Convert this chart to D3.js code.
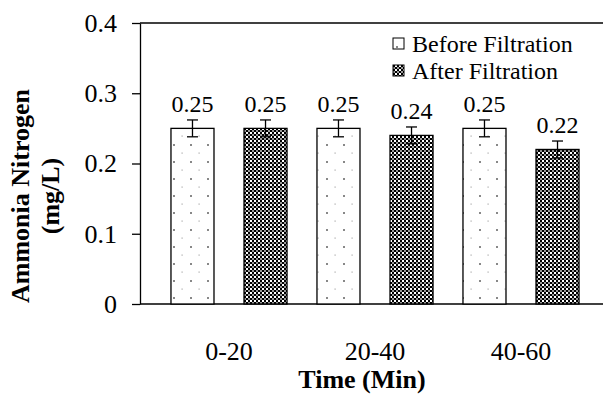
<!DOCTYPE html>
<html>
<head>
<meta charset="utf-8">
<script src="https://cdn.jsdelivr.net/npm/d3@7"></script>
<style>
    body { margin: 0; background: #fff; }
</style>
</head>
<body>
<div id="chart"></div>
<script>
const categories = ['0-20', '20-40', '40-60'];
const series = ['Before Filtration', 'After Filtration'];
const before = [0.25, 0.25, 0.25];
const after = [0.25, 0.24, 0.22];
const beforeErr = [0.012, 0.012, 0.012];
const afterErr = [0.012, 0.012, 0.012];
const yTicks = [0, 0.1, 0.2, 0.3, 0.4];
const yTickLabels = ['0', '0.1', '0.2', '0.3', '0.4'];

const width = 603;
const height = 394;
const serif = '"Times New Roman", "Liberation Serif", serif';

const svg = d3.select('#chart')
    .append('svg')
    .attr('width', width)
    .attr('height', height)
    .style('font-family', serif);

// patterns for the two series
const defs = svg.append('defs');

const dots = defs.append('pattern')
    .attr('id', 'dots')
    .attr('patternUnits', 'userSpaceOnUse')
    .attr('x', 3)
    .attr('y', 8)
    .attr('width', 17)
    .attr('height', 17);
dots.append('rect').attr('width', 17).attr('height', 17).attr('fill', '#fff');
dots.append('rect').attr('x', 0).attr('y', 0).attr('width', 2).attr('height', 2).attr('fill', '#888');
dots.append('rect').attr('x', 8.5).attr('y', 8.5).attr('width', 1.2).attr('height', 1.2).attr('fill', '#aaa');

const checks = defs.append('pattern')
    .attr('id', 'checks')
    .attr('patternUnits', 'userSpaceOnUse')
    .attr('width', 4)
    .attr('height', 4);
checks.append('rect').attr('width', 4).attr('height', 4).attr('fill', '#fff');
checks.append('rect').attr('x', 0).attr('y', 0).attr('width', 2).attr('height', 2).attr('fill', '#000');
checks.append('rect').attr('x', 2).attr('y', 2).attr('width', 2).attr('height', 2).attr('fill', '#000');
checks.append('rect').attr('x', 0).attr('y', 2).attr('width', 2).attr('height', 2).attr('fill', '#9a9a9a');

const fills = ['url(#dots)', 'url(#checks)'];

const plotLeft = 140;
const plotTop = 23;
const plotBottom = 304;

const y = d3.scaleLinear()
    .domain([0, 0.4])
    .range([plotBottom, plotTop]);

const x0 = d3.scaleBand()
    .domain(categories)
    .range([156, 594]);

const x1 = d3.scaleBand()
    .domain(series)
    .range([0, x0.bandwidth()])
    .paddingInner(0.411)
    .paddingOuter(0.205);

// frame lines
svg.append('line')
    .attr('x1', plotLeft).attr('x2', width)
    .attr('y1', plotTop).attr('y2', plotTop)
    .attr('stroke', '#000').attr('stroke-width', 1.3);
svg.append('line')
    .attr('x1', plotLeft).attr('x2', width)
    .attr('y1', plotBottom).attr('y2', plotBottom)
    .attr('stroke', '#000').attr('stroke-width', 1.3);

const yAxis = svg.append('g')
    .attr('transform', `translate(${plotLeft},0)`)
    .call(d3.axisLeft(y)
        .tickValues(yTicks)
        .tickFormat((d, i) => yTickLabels[i])
        .tickSize(8)
        .tickSizeOuter(0)
        .tickPadding(15))
    .attr('font-family', serif)
    .attr('font-size', 26);
yAxis.selectAll('path, line').attr('stroke', '#000').attr('stroke-width', 1.3);
yAxis.selectAll('text').attr('fill', '#000');

const rows = categories.map((c, i) => [
    { cat: c, s: series[0], v: before[i], e: beforeErr[i], k: 0 },
    { cat: c, s: series[1], v: after[i], e: afterErr[i], k: 1 }
]).flat();

svg.selectAll('rect.bar')
    .data(rows)
    .join('rect')
    .attr('class', 'bar')
    .attr('x', d => x0(d.cat) + x1(d.s))
    .attr('y', d => y(d.v))
    .attr('width', x1.bandwidth())
    .attr('height', d => y(0) - y(d.v))
    .attr('fill', d => fills[d.k])
    .attr('stroke', '#000')
    .attr('stroke-width', 1.3);

// error bars
const err = svg.selectAll('g.err')
    .data(rows)
    .join('g')
    .attr('class', 'err')
    .attr('stroke', '#000')
    .attr('stroke-width', 1.3);
err.append('line')
    .attr('x1', d => x0(d.cat) + x1(d.s) + x1.bandwidth() / 2)
    .attr('x2', d => x0(d.cat) + x1(d.s) + x1.bandwidth() / 2)
    .attr('y1', d => y(d.v + d.e))
    .attr('y2', d => y(d.v - d.e));
[1, -1].forEach(sign => {
    err.append('line')
        .attr('x1', d => x0(d.cat) + x1(d.s) + x1.bandwidth() / 2 - 5.5)
        .attr('x2', d => x0(d.cat) + x1(d.s) + x1.bandwidth() / 2 + 5.5)
        .attr('y1', d => y(d.v + sign * d.e))
        .attr('y2', d => y(d.v + sign * d.e));
});

// value labels
svg.selectAll('text.val')
    .data(rows)
    .join('text')
    .attr('class', 'val')
    .attr('x', d => x0(d.cat) + x1(d.s) + x1.bandwidth() / 2)
    .attr('y', d => y(d.v + d.e) - 8)
    .attr('text-anchor', 'middle')
    .style('font-size', '24px')
    .text(d => d3.format('.2f')(d.v));

// category labels
svg.selectAll('text.cat')
    .data(categories)
    .join('text')
    .attr('class', 'cat')
    .attr('x', d => x0(d) + x0.bandwidth() / 2)
    .attr('y', 360)
    .attr('text-anchor', 'middle')
    .style('font-size', '26px')
    .text(d => d);

svg.append('text')
    .attr('x', 362)
    .attr('y', 388)
    .attr('text-anchor', 'middle')
    .style('font-size', '26px')
    .style('font-weight', 'bold')
    .text('Time (Min)');

svg.append('text')
    .attr('transform', 'translate(29,196) rotate(-90)')
    .attr('text-anchor', 'middle')
    .style('font-size', '26px')
    .style('font-weight', 'bold')
    .text('Ammonia Nitrogen');
svg.append('text')
    .attr('transform', 'translate(59,196) rotate(-90)')
    .attr('text-anchor', 'middle')
    .style('font-size', '26px')
    .style('font-weight', 'bold')
    .text('(mg/L)');

// legend
const legend = svg.selectAll('g.legend')
    .data(series)
    .join('g')
    .attr('class', 'legend')
    .attr('transform', (d, i) => `translate(393,${38 + i * 27})`);
legend.append('rect')
    .attr('width', 11)
    .attr('height', 11)
    .attr('fill', (d, i) => fills[i])
    .attr('stroke', '#000')
    .attr('stroke-width', 1);
legend.append('text')
    .attr('x', 19)
    .attr('y', 14)
    .style('font-size', '24px')
    .text(d => d);
</script>
</body>
</html>
